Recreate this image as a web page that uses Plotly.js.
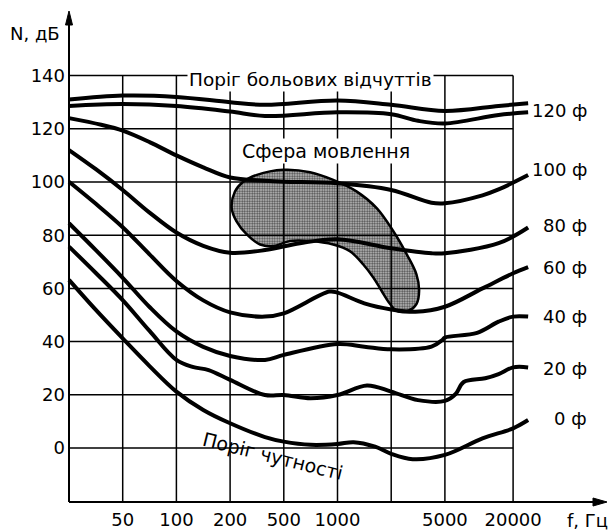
<!DOCTYPE html>
<html>
<head>
<meta charset="utf-8">
<script src="https://cdn.plot.ly/plotly-3.0.1.min.js"></script>
<style>html,body{margin:0;padding:0;background:#fff;}#chart{width:611px;height:530px;}</style>
</head>
<body>
<div id="chart"></div>
<script>
// ---- Axis scale (frequency axis is drawn on equally spaced grid positions) ----
const xGridPos = [1, 2, 3, 4, 5, 6, 7, 8.27];
const xTickPos = [1, 2, 3, 4, 5, 7, 8.27];
const xTickLabels = ['50', '100', '200', '500', '1000', '5000', '20000'];
const yTicks = [0, 20, 40, 60, 80, 100, 120, 140];
const yTickLabels = ['0', '20', '40', '60', '80', '100', '120', '140'];

// ---- Curves (x = grid position on frequency axis, y = level in dB) ----
const painX = [0, 1, 2, 3, 3.65, 5, 6, 7, 8, 8.55];
const painY = [131, 132.5, 132, 130, 129, 130.6, 129, 126.7, 128.6, 129.6];

const p120X = [0, 1, 2, 3, 3.65, 5, 6, 6.5, 7, 8, 8.55];
const p120Y = [128.6, 129.3, 128.6, 126.5, 124.8, 126.2, 125.5, 123, 122, 125.2, 126.2];

const p100X = [0, 0.6, 1, 1.5, 2, 2.5, 3, 3.65, 4, 5, 6, 6.75, 7, 7.7, 8, 8.55];
const p100Y = [124, 121.5, 119.3, 115, 110, 105.5, 101.7, 100.5, 100.1, 99.5, 97, 92.2, 92, 95, 97.2, 102.6];

const p80X = [0, 0.5, 1, 1.5, 2, 2.5, 3, 3.65, 4.3, 5, 6, 6.75, 7, 8, 8.55];
const p80Y = [112, 104.8, 97, 88.5, 81, 76, 73.4, 74.4, 77, 78.5, 75.1, 73.2, 73.2, 77, 82.9];

const p60X = [0, 0.5, 1, 1.5, 2, 2.5, 3, 3.65, 4, 4.85, 5, 5.5, 6, 6.45, 7, 7.7, 8.27, 8.55];
const p60Y = [100.1, 91.8, 83, 72.8, 62.8, 55.5, 51, 49.4, 50.6, 58.8, 58.4, 54.4, 52.1, 51.2, 53.1, 60, 65.7, 68];

const p40X = [0, 0.5, 1, 1.5, 2, 2.5, 3, 3.65, 4, 5, 5.5, 6, 6.75, 6.95, 7, 7.6, 8, 8.27, 8.55];
const p40Y = [84.5, 74.4, 64, 53, 43.8, 38, 34.6, 33.1, 35, 39.1, 38.1, 37.1, 38.1, 40.6, 41.5, 43.3, 47.5, 49.4, 49.4];

const p20X = [0, 0.5, 1, 1.5, 2, 2.3, 2.6, 3, 3.65, 4, 4.5, 5, 5.55, 6, 6.5, 7, 7.2, 7.35, 7.75, 8, 8.27, 8.55];
const p20Y = [75.7, 65.8, 55.6, 44, 33.1, 30.5, 29.3, 25.6, 19.9, 19.9, 18.7, 19.9, 23.5, 21.2, 18, 17.7, 20.3, 24.8, 26.2, 27.8, 30.3, 30.3];

const p0X = [0, 0.5, 1, 1.5, 2, 2.5, 3, 3.65, 4, 4.5, 5, 5.3, 5.7, 6, 6.4, 7, 7.7, 8.27, 8.55];
const p0Y = [63.2, 51.9, 41.2, 30.8, 21.2, 14.3, 9.3, 4.1, 2.4, 1.2, 1.5, 2.2, 0.5, -2.2, -4.2, -2.6, 3.6, 7.4, 10.5];

// Speech area outline
const speechX = [3.03, 3.09, 3.25, 3.50, 3.99, 4.49, 4.92, 5.36, 5.73, 6.04, 6.29, 6.47, 6.52, 6.47, 6.32, 6.10, 5.98, 5.82, 5.67, 5.48, 5.23, 4.92, 4.49, 4.12, 3.80, 3.56, 3.31, 3.12, 3.03];
const speechY = [90.2, 96.4, 100.2, 102.7, 104.6, 103.7, 100.8, 96.4, 90.2, 81.5, 72.8, 65.3, 59.1, 54.1, 51.6, 51.6, 54.1, 59.1, 64.0, 69.0, 74.0, 76.5, 77.8, 77.8, 75.9, 76.5, 80.3, 85.2, 90.2];

const phonLabels = ['120 ф', '100 ф', '80 ф', '60 ф', '40 ф', '20 ф', '0 ф'];

// ---- Layout geometry ----
const W = 611, H = 530;
const M = {l: 66, r: 5, t: 10, b: 26};
const plotW = W - M.l - M.r, plotH = H - M.t - M.b;
const X0PX = 69, XSTEP = 53.7;   // pixel of grid position 0, px per grid step
const Y0PX = 448, YSTEP = 2.66;  // pixel of 0 dB, px per dB
const xRange = [(M.l - X0PX) / XSTEP, (W - M.r - X0PX) / XSTEP];
const yRange = [(Y0PX - (H - M.b)) / YSTEP, (Y0PX - M.t) / YSTEP];
const px = p => (p - M.l) / plotW;
const py = p => (H - M.b - p) / plotH;
const FONT = 'DejaVu Sans';

const curveLine = {color: '#000', width: 4, shape: 'spline', smoothing: 1};
const mk = (x, y) => ({x, y, type: 'scatter', mode: 'lines', line: curveLine, hoverinfo: 'skip', showlegend: false});

const traces = [
  {x: speechX, y: speechY, type: 'scatter', mode: 'lines', fill: 'toself',
   fillcolor: '#b0b0b0',
   fillpattern: {shape: '.', fgcolor: '#4a4a4a', bgcolor: '#c8c8c8', size: 2.5, solidity: 0.5},
   line: {color: '#000', width: 2.5, shape: 'spline', smoothing: 1}, hoverinfo: 'skip', showlegend: false},
  mk(painX, painY), mk(p120X, p120Y), mk(p100X, p100Y), mk(p80X, p80Y),
  mk(p60X, p60Y), mk(p40X, p40Y), mk(p20X, p20Y), mk(p0X, p0Y)
];

const xMax = xGridPos[xGridPos.length - 1];
const yMin = -20, yMax = yTicks[yTicks.length - 1];
const shapes = [];
xGridPos.forEach(v => shapes.push({type: 'line', xref: 'x', yref: 'y', x0: v, x1: v, y0: yMin, y1: yMax, line: {color: '#000', width: 1.5}, layer: 'above'}));
yTicks.forEach(v => shapes.push({type: 'line', xref: 'x', yref: 'y', x0: 0, x1: xMax, y0: v, y1: v, line: {color: '#000', width: 1.5}, layer: 'above'}));
// axes with arrows
shapes.push({type: 'line', xref: 'paper', yref: 'paper', x0: px(69), x1: px(69), y0: py(502), y1: py(22), line: {color: '#000', width: 2}});
shapes.push({type: 'line', xref: 'paper', yref: 'paper', x0: px(69), x1: px(597), y0: py(502), y1: py(502), line: {color: '#000', width: 2}});
shapes.push({type: 'path', xref: 'paper', yref: 'paper',
  path: `M ${px(65.5)} ${py(25)} L ${px(69)} ${py(11)} L ${px(72.5)} ${py(25)} Z`, fillcolor: '#000', line: {color: '#000', width: 1}});
shapes.push({type: 'path', xref: 'paper', yref: 'paper',
  path: `M ${px(593)} ${py(498)} L ${px(607)} ${py(502)} L ${px(593)} ${py(506)} Z`, fillcolor: '#000', line: {color: '#000', width: 1}});

const txt = (text, x, y, size, opts = {}) => Object.assign({text, xref: 'paper', yref: 'paper', x: px(x), y: py(y),
  showarrow: false, font: {family: FONT, size, color: '#000'}, xanchor: 'center', yanchor: 'middle'}, opts);

const phonLabelY = [110, 170, 225, 267, 316, 368, 418];
const annotations = [
  txt('N, дБ', 35, 33, 18),
  txt('f, Гц', 587, 520, 18),
  txt('Поріг больових відчуттів', 310, 79, 18.5, {bgcolor: '#fff', borderpad: 1}),
  txt('Сфера мовлення', 326, 151, 19, {bgcolor: '#fff', borderpad: 1}),
  txt('Поріг чутності', 273, 456, 19, {textangle: 14})
];
phonLabels.forEach((t, i) => annotations.push(txt(t, 589, phonLabelY[i], 18, {xanchor: 'right'})));

const layout = {
  width: W, height: H, margin: M,
  paper_bgcolor: '#fff', plot_bgcolor: '#fff',
  font: {family: FONT, size: 18, color: '#000'},
  xaxis: {range: xRange, tickvals: xTickPos, ticktext: xTickLabels, showgrid: false, zeroline: false,
          showline: false, ticks: '', tickfont: {family: FONT, size: 18, color: '#000'}, ticklabelstandoff: 3, fixedrange: true},
  yaxis: {range: yRange, tickvals: yTicks, ticktext: yTickLabels, showgrid: false, zeroline: false,
          showline: false, ticks: '', tickfont: {family: FONT, size: 18, color: '#000'}, fixedrange: true},
  shapes, annotations, showlegend: false
};

Plotly.newPlot('chart', traces, layout, {displayModeBar: false, staticPlot: true});
</script>
</body>
</html>
